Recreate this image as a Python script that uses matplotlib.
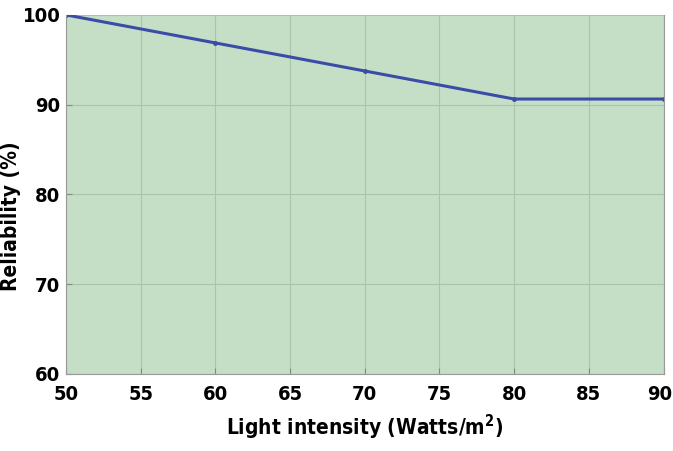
import matplotlib.pyplot as plt
from matplotlib import font_manager
from matplotlib.transforms import ScaledTranslation

# 数据
light = [50, 60, 70, 80, 90]
reliability = [100, 96.875, 93.75, 90.625, 90.625]
xticks = [50, 55, 60, 65, 70, 75, 80, 85, 90]
yticks = [60, 70, 80, 90, 100]

# 找一个窄体粗字体，找不到就用 Liberation Sans
cond = None
for f in font_manager.fontManager.ttflist:
    fn = f.fname.lower()
    if ('narrow' in fn or 'condensed' in fn) and 'bold' in fn and 'oblique' not in fn and 'italic' not in fn:
        cond = f
        break
if cond is not None:
    fam = cond.name
    stretch = cond.stretch
    size_t, size_l = 14.5, 15
else:
    fam = 'Liberation Sans'
    stretch = 'normal'
    size_t, size_l = 13.5, 14.5
plt.rcParams['font.family'] = [fam, 'DejaVu Sans']
plt.rcParams['font.stretch'] = stretch
plt.rcParams['mathtext.fontset'] = 'custom'
plt.rcParams['mathtext.rm'] = fam
plt.rcParams['mathtext.bf'] = fam + ':bold'

fig = plt.figure(figsize=(6.73, 4.51), dpi=100)
ax = fig.add_axes([0.098, 0.171, 0.888, 0.796])
ax.set_facecolor('#c4dfc5')

ax.plot(light, reliability, color='#3a4ca6', linewidth=2.2,
        marker='.', markersize=5)

ax.set_xlim(50, 90)
ax.set_ylim(60, 100)
ax.set_xticks(xticks)
ax.set_yticks(yticks)
ax.grid(True, color='#a9c4aa', linewidth=0.8)
ax.tick_params(direction='in', length=4, color='#888888', labelsize=size_t)
ax.tick_params(axis='x', pad=8)
ax.tick_params(axis='y', pad=4)
for lab in ax.get_xticklabels() + ax.get_yticklabels():
    lab.set_fontweight('bold')

# 最右边的 90 往左挪一点，免得被裁掉
last = ax.get_xticklabels()[-1]
last.set_transform(last.get_transform() + ScaledTranslation(-2.5 / 72, 0, fig.dpi_scale_trans))

for s in ['left', 'right', 'bottom']:
    ax.spines[s].set_color('#999999')
ax.spines['top'].set_visible(False)

ax.set_xlabel(r'Light intensity (Watts/m$^{\mathbf{2}}$)', fontsize=size_l, fontweight='bold', labelpad=6)
ax.set_ylabel('Reliability (%)', fontsize=size_l, fontweight='bold')
ax.yaxis.set_label_coords(-0.075, 0.44)

plt.savefig('out.png')
